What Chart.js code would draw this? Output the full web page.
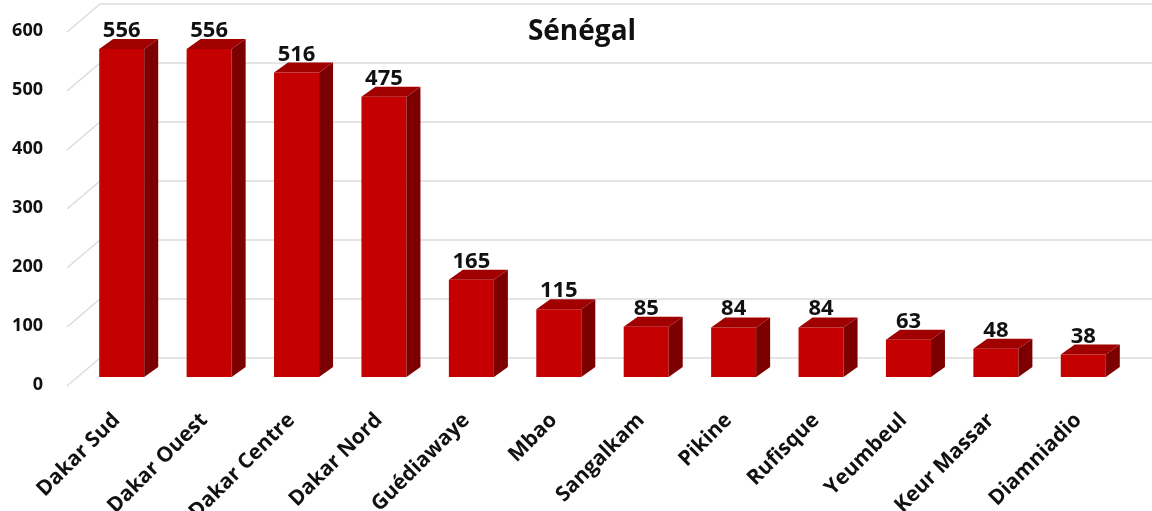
<!DOCTYPE html>
<html>
<head>
<meta charset="utf-8">
<script src="https://cdn.jsdelivr.net/npm/chart.js@4"></script>
<style>
html,body{margin:0;padding:0;background:#fff}
#wrap{width:1152px;height:511px}
</style>
</head>
<body>
<div id="wrap"><canvas id="grafico"></canvas></div>
<script>
let categorias=['Dakar Sud','Dakar Ouest','Dakar Centre','Dakar Nord','Guédiawaye','Mbao','Sangalkam','Pikine','Rufisque','Yeumbeul','Keur Massar','Diamniadio']
let valores=[556,556,516,475,165,115,85,84,84,63,48,38]
let ticksY=[0,100,200,300,400,500,600]
let titulo='Sénégal'

let fonte='"Open Sans", sans-serif'

// grade em perspectiva (parede do fundo + diagonal)
let grade3d={
id:'grade3d',
beforeDatasetsDraw(chart){
let{ctx,chartArea,scales}=chart
ctx.save()
ctx.strokeStyle='#dcdcdc'
ctx.lineWidth=1.5
ticksY.forEach(v=>{
let py=scales.y.getPixelForValue(v)
ctx.beginPath()
ctx.moveTo(chartArea.left-11,py+9)
ctx.lineTo(chartArea.left+22,py-19)
ctx.lineTo(chart.width,py-19)
ctx.stroke()
})
ctx.restore()
}
}

// faces laterais e topo das barras + rótulos
let barras3d={
id:'barras3d',
afterDatasetsDraw(chart){
let{ctx}=chart
let meta=chart.getDatasetMeta(0)
let dx=14,dy=10
ctx.save()
meta.data.forEach((b,i)=>{
let l=b.x-b.width/2
let r=b.x+b.width/2
ctx.fillStyle='#7c0000'
ctx.beginPath()
ctx.moveTo(r,b.y)
ctx.lineTo(r+dx,b.y-dy)
ctx.lineTo(r+dx,b.base-dy)
ctx.lineTo(r,b.base)
ctx.closePath()
ctx.fill()
ctx.fillStyle='#a00000'
ctx.beginPath()
ctx.moveTo(l,b.y)
ctx.lineTo(l+dx,b.y-dy)
ctx.lineTo(r+dx,b.y-dy)
ctx.lineTo(r,b.y)
ctx.closePath()
ctx.fill()
ctx.fillStyle='#111'
ctx.font='bold 22px '+fonte
ctx.textAlign='center'
ctx.textBaseline='alphabetic'
ctx.fillText(valores[i],b.x,b.y-12)
})
ctx.font='bold 28px '+fonte
ctx.textAlign='center'
ctx.fillStyle='#111'
ctx.fillText(titulo,582,40)
ctx.restore()
}
}

new Chart(document.getElementById('grafico'),{
type:'bar',
data:{
labels:categorias,
datasets:[{
data:valores,
backgroundColor:'#c40000',
categoryPercentage:1,
barPercentage:0.515
}]
},
options:{
responsive:true,
maintainAspectRatio:false,
animation:false,
layout:{padding:{left:12,right:25,top:23,bottom:0}},
plugins:{
legend:{display:false},
tooltip:{enabled:false}
},
scales:{
x:{
grid:{display:false},
border:{display:false},
ticks:{
autoSkip:false,
minRotation:45,
maxRotation:45,
padding:23,
labelOffset:-5,
color:'#111',
font:{family:fonte,size:21,weight:'bold'}
},
afterFit(s){s.height=134}
},
y:{
min:0,
max:600,
grid:{display:false},
border:{display:false},
ticks:{
stepSize:100,
padding:27,
labelOffset:8,
color:'#111',
font:{family:fonte,size:18,weight:'bold'}
},
afterFit(s){
s.width=66
s.paddingTop=0
s.paddingBottom=0
}
}
}
},
plugins:[grade3d,barras3d]
})
</script>
</body>
</html>
